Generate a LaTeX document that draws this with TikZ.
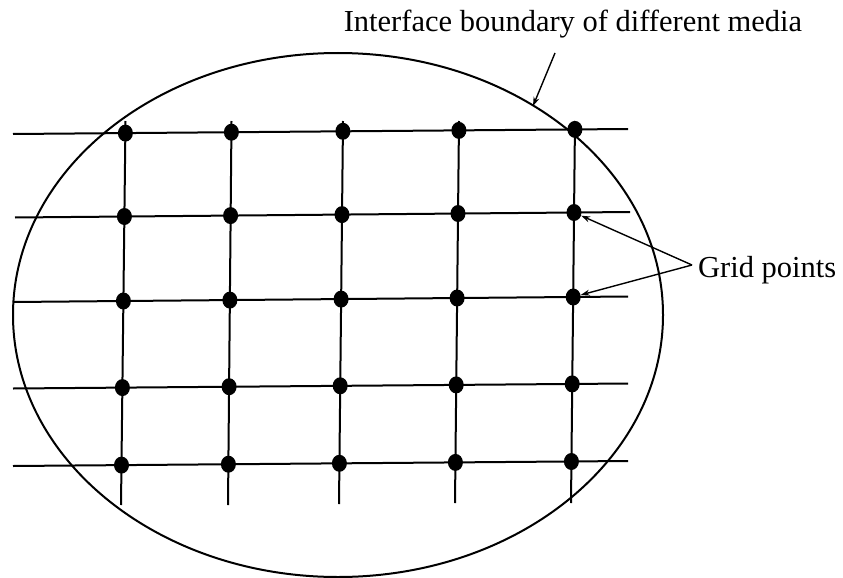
\documentclass[tikz,border=0pt]{standalone}
\usepackage{fontspec}
\setmainfont{Liberation Serif}
\usetikzlibrary{shapes.geometric,arrows.meta}
\begin{document}
\begin{tikzpicture}[x=1pt,y=-1pt,
  gridline/.style={line width=2pt,black},
  dot/.style={ellipse,fill=black,draw=none,minimum width=15pt,minimum height=17pt,inner sep=0pt},
  lbl/.style={font=\fontsize{30.5}{36}\selectfont,inner sep=0pt},
  pointer/.style={line width=1.4pt,-{Stealth[length=9pt,width=6pt]}}]
\useasboundingbox (0,0) rectangle (843,578);
% boundary
\draw[line width=2pt] (338,315) ellipse [x radius=325, y radius=262];
% rows
\coordinate (rL1) at (13,134);   \coordinate (rR1) at (628,129);
\coordinate (rL2) at (15,217.5); \coordinate (rR2) at (630,212);
\coordinate (rL3) at (13,302);   \coordinate (rR3) at (628,296.5);
\coordinate (rL4) at (13,388.5); \coordinate (rR4) at (628,383.5);
\coordinate (rL5) at (13,466);   \coordinate (rR5) at (628,461);
% columns
\coordinate (cT1) at (125.5,121); \coordinate (cB1) at (121,505);
\coordinate (cT2) at (231.5,121); \coordinate (cB2) at (228,505);
\coordinate (cT3) at (343,121);   \coordinate (cB3) at (339,504);
\coordinate (cT4) at (459,121);   \coordinate (cB4) at (455,503);
\coordinate (cT5) at (575,121);   \coordinate (cB5) at (571,503);
\foreach \i in {1,...,5} {
  \draw[gridline] (rL\i) -- (rR\i);
  \draw[gridline] (cT\i) -- (cB\i);
}
% grid points
\node[dot] (d11) at (125.4,133.1) {};
\node[dot] (d12) at (231.4,132.2) {};
\node[dot] (d13) at (342.9,131.3) {};
\node[dot] (d14) at (458.9,130.4) {};
\node[dot] (d15) at (574.9,129.4) {};
\node[dot] (d21) at (124.4,216.5) {};
\node[dot] (d22) at (230.6,215.6) {};
\node[dot] (d23) at (342.0,214.6) {};
\node[dot] (d24) at (458.0,213.5) {};
\node[dot] (d25) at (574.0,212.5) {};
\node[dot] (d31) at (123.4,301.0) {};
\node[dot] (d32) at (229.9,300.1) {};
\node[dot] (d33) at (341.1,299.1) {};
\node[dot] (d34) at (457.1,298.0) {};
\node[dot] (d35) at (573.2,297.0) {};
\node[dot] (d41) at (122.4,387.6) {};
\node[dot] (d42) at (229.1,386.7) {};
\node[dot] (d43) at (340.2,385.8) {};
\node[dot] (d44) at (456.2,384.9) {};
\node[dot] (d45) at (572.2,383.9) {};
\node[dot] (d51) at (121.5,465.1) {};
\node[dot] (d52) at (228.4,464.2) {};
\node[dot] (d53) at (339.4,463.3) {};
\node[dot] (d54) at (455.4,462.4) {};
\node[dot] (d55) at (571.4,461.5) {};
% labels
\node[lbl,anchor=base] (title) at (573,32) {Interface boundary of different media};
\coordinate (tstart) at (555,53);
\coordinate (onboundary) at (533,106);
\draw[pointer] (tstart) -- (onboundary);
\node[lbl,anchor=base west] (gp) at (698,277) {Grid points};
\coordinate (gj) at (692,265);
\draw[pointer] (gj) -- (d25);
\draw[pointer] (gj) -- (d35);
\end{tikzpicture}
\end{document}
